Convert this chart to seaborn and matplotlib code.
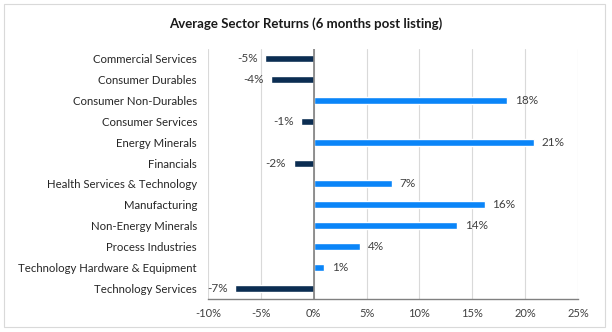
import matplotlib
matplotlib.use("Agg")
import matplotlib.pyplot as plt
from matplotlib.patches import Rectangle
from matplotlib.ticker import FuncFormatter
import seaborn as sns
import pandas as pd

sectors = [
    "Commercial Services",
    "Consumer Durables",
    "Consumer Non-Durables",
    "Consumer Services",
    "Energy Minerals",
    "Financials",
    "Health Services & Technology",
    "Manufacturing",
    "Non-Energy Minerals",
    "Process Industries",
    "Technology Hardware & Equipment",
    "Technology Services",
]
returns = [-4.6, -4.0, 18.3, -1.2, 20.8, -1.9, 7.4, 16.2, 13.6, 4.4, 1.0, -7.4]
x_ticks = [-10, -5, 0, 5, 10, 15, 20, 25]

NAVY = "#0B2D52"
BLUE = "#0A85F8"
TEXT = "#404040"

sns.set_theme(style="white")
plt.rcParams["font.family"] = ["Lato", "DejaVu Sans"]

df = pd.DataFrame({"sector": sectors, "ret": returns})
df["sign"] = ["neg" if v < 0 else "pos" for v in returns]

fig = plt.figure(figsize=(6.12, 3.32), dpi=100)
ax = fig.add_axes([208 / 612, 1 - 298.5 / 332, 370 / 612, 250 / 332])

sns.barplot(data=df, x="ret", y="sector", hue="sign", orient="h",
            palette={"neg": NAVY, "pos": BLUE}, dodge=False, width=0.34,
            legend=False, ax=ax, saturation=1)

ax.set_xlim(-10, 25)
ax.set_ylim(11.5, -0.5)
ax.set_xticks(x_ticks)
ax.xaxis.set_major_formatter(FuncFormatter(lambda v, p: f"{v:.0f}%"))
ax.set_xlabel("")
ax.set_ylabel("")
ax.tick_params(axis="x", length=0, labelsize=8, colors=TEXT, pad=7)
ax.tick_params(axis="y", length=0, labelsize=8.2, pad=8)
for lbl in ax.get_yticklabels():
    lbl.set_color("#262626")

ax.grid(axis="x", color="#D9D9D9", linewidth=0.8)
ax.set_axisbelow(True)
for side in ["top", "right", "left"]:
    ax.spines[side].set_visible(False)
ax.spines["bottom"].set_color("#808080")
ax.spines["bottom"].set_linewidth(1.0)
ax.axvline(0, color="#808080", linewidth=1.2, zorder=3)

# value labels beside each bar end
for i, v in enumerate(returns):
    if v >= 0:
        ax.text(v + 0.7, i, f"{v:.0f}%", va="center", ha="left",
                fontsize=8.5, color=TEXT)
    else:
        ax.text(v - 0.7, i, f"{v:.0f}%", va="center", ha="right",
                fontsize=8.5, color=TEXT)

fig.text(0.5, 1 - 24 / 332, "Average Sector Returns (6 months post listing)",
         ha="center", va="center", fontsize=9.5, fontweight="bold",
         color="#1a1a1a")

fig.patches.append(Rectangle((4 / 612, 1 - 327 / 332), 601 / 612, 323 / 332,
                             transform=fig.transFigure, fill=False,
                             edgecolor="#D9D9D9", linewidth=0.8))

fig.savefig("out.png", dpi=100)
